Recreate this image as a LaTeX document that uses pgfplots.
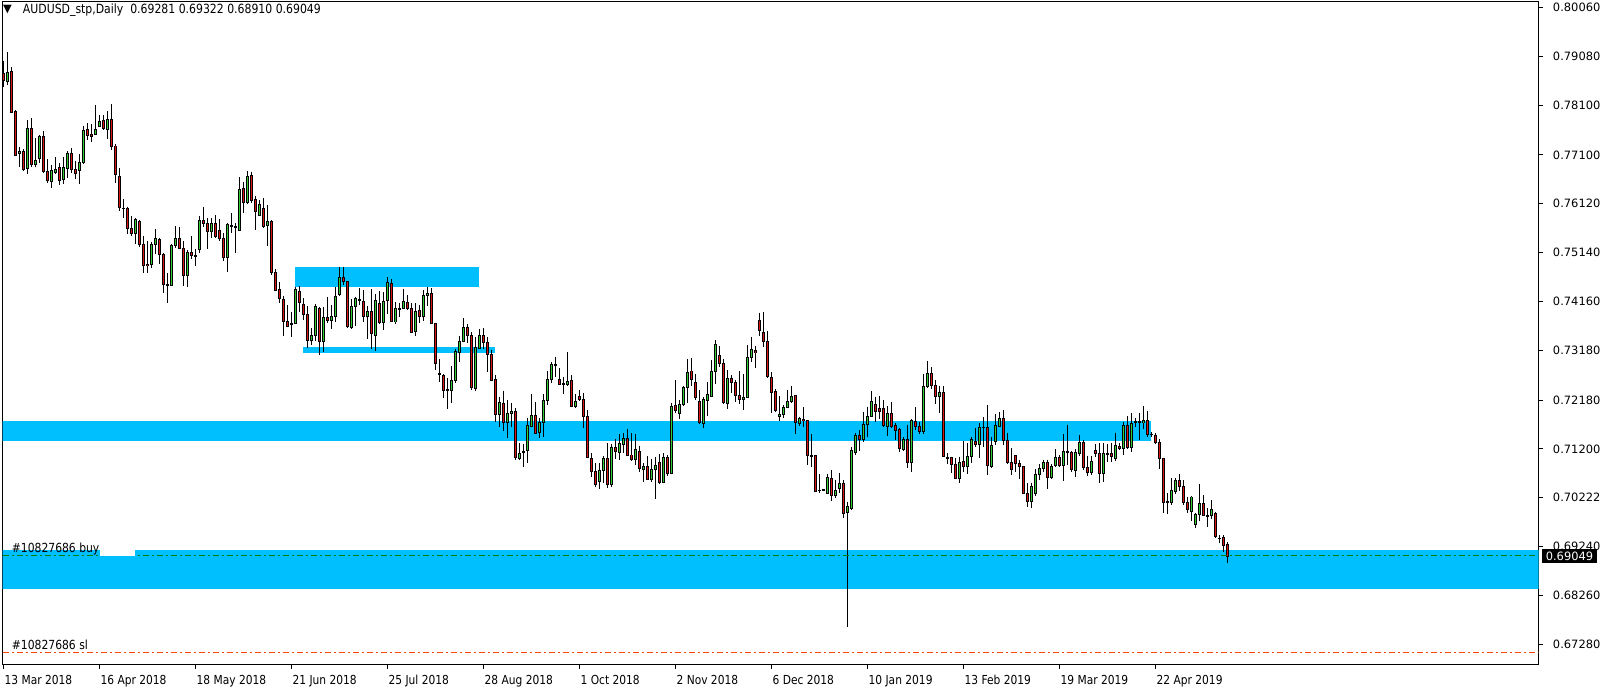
\documentclass[border=0pt]{standalone}
\usepackage{fontspec}
\usepackage{pgfplots}
\usepackage{pgfplotstable}
\pgfplotsset{compat=1.18}
\newfontfamily\mtfont[FakeStretch=0.86]{DejaVu Sans}
\newfontfamily\pxfont{DejaVu Sans}
\definecolor{mtblue}{RGB}{0,191,255}
\definecolor{bullc}{RGB}{50,205,50}
\definecolor{bearc}{RGB}{220,20,20}
\definecolor{buyc}{RGB}{0,128,0}
\definecolor{slc}{RGB}{255,69,0}

\pgfplotstableread{
i O H L C
1 0.78577 0.79159 0.78504 0.78758
4 0.77132 0.77253 0.76865 0.77179
6 0.76831 0.77801 0.76711 0.77634
8 0.76912 0.77433 0.76865 0.76979
9 0.77032 0.77500 0.76945 0.77480
12 0.76570 0.76898 0.76430 0.76778
13 0.76744 0.77052 0.76711 0.76811
15 0.76611 0.77065 0.76517 0.76838
16 0.76831 0.77173 0.76631 0.77132
19 0.76798 0.77112 0.76510 0.76952
20 0.76945 0.77681 0.76918 0.77601
23 0.77520 0.78102 0.77507 0.77601
24 0.77668 0.77902 0.77654 0.77781
26 0.77614 0.77982 0.77413 0.77815
33 0.75527 0.75841 0.75313 0.75814
37 0.74905 0.75360 0.74838 0.75313
38 0.75306 0.75607 0.75105 0.75413
42 0.74490 0.75313 0.74470 0.75286
43 0.75286 0.75674 0.75239 0.75413
46 0.74677 0.75192 0.74456 0.75152
49 0.75206 0.75875 0.75125 0.75788
52 0.75560 0.75828 0.75426 0.75727
56 0.75045 0.75741 0.74757 0.75714
59 0.75593 0.76650 0.75580 0.76410
61 0.76142 0.76778 0.76115 0.76677
64 0.75888 0.76195 0.75874 0.76115
66 0.75687 0.76095 0.75272 0.75774
73 0.73720 0.74456 0.73707 0.74403
77 0.73372 0.73620 0.73285 0.73479
78 0.73473 0.74108 0.73366 0.74068
80 0.73359 0.74041 0.73138 0.73841
82 0.73774 0.74088 0.73606 0.73867
83 0.73854 0.74456 0.73754 0.74269
84 0.74289 0.74851 0.74269 0.74643
87 0.73640 0.74202 0.73600 0.74068
88 0.74055 0.74255 0.73673 0.74229
91 0.73854 0.74068 0.73406 0.73961
93 0.73473 0.74309 0.73172 0.74188
95 0.73734 0.74342 0.73586 0.74168
96 0.74175 0.74643 0.73908 0.74543
98 0.73747 0.74142 0.73700 0.74008
99 0.74008 0.74135 0.73854 0.74021
100 0.74021 0.74409 0.74001 0.74168
103 0.73553 0.74122 0.73473 0.73961
105 0.73853 0.74380 0.73773 0.74280
106 0.74280 0.74450 0.74068 0.74320
112 0.72368 0.72863 0.72127 0.72576
113 0.72569 0.73198 0.72515 0.73164
114 0.73144 0.73465 0.72944 0.73358
115 0.73358 0.73820 0.73338 0.73639
118 0.72408 0.73439 0.72368 0.73231
119 0.73218 0.73599 0.73205 0.73479
124 0.71893 0.72248 0.71646 0.72134
126 0.71732 0.72181 0.71425 0.71913
127 0.71913 0.72121 0.71646 0.71954
129 0.71004 0.71311 0.70983 0.71111
131 0.71164 0.71826 0.70923 0.71673
132 0.71646 0.72301 0.71632 0.71873
134 0.71525 0.71820 0.71412 0.71733
135 0.71733 0.72295 0.71432 0.72181
136 0.72168 0.72756 0.72081 0.72596
137 0.72596 0.72937 0.72529 0.72897
141 0.72489 0.73144 0.72462 0.72556
143 0.72047 0.72301 0.72014 0.72154
149 0.70542 0.70910 0.70401 0.70770
150 0.70763 0.71057 0.70522 0.71011
152 0.70489 0.71298 0.70442 0.71231
154 0.71124 0.71499 0.70977 0.71312
155 0.71292 0.71512 0.71111 0.71412
158 0.70990 0.71499 0.70877 0.71191
160 0.70790 0.70910 0.70542 0.70850
162 0.70589 0.70997 0.70542 0.70796
163 0.70796 0.71044 0.70194 0.70863
165 0.70529 0.71111 0.70522 0.71031
167 0.70709 0.72128 0.70696 0.72054
169 0.71914 0.72181 0.71800 0.72094
170 0.72094 0.72462 0.72061 0.72442
171 0.72436 0.73004 0.72128 0.72737
175 0.71713 0.72235 0.71626 0.72181
176 0.72175 0.72536 0.71860 0.72295
177 0.72248 0.72984 0.72235 0.72763
178 0.72750 0.73386 0.72496 0.73299
181 0.72114 0.72783 0.72001 0.72616
185 0.72195 0.72696 0.71981 0.72235
186 0.72228 0.73285 0.72215 0.73038
187 0.73038 0.73446 0.72951 0.73198
194 0.71847 0.72262 0.71767 0.71894
195 0.71894 0.72081 0.71813 0.72034
196 0.72034 0.72382 0.72014 0.72154
197 0.72154 0.72462 0.72114 0.72255
199 0.71706 0.71847 0.71659 0.71800
206 0.70302 0.70690 0.70295 0.70636
208 0.70262 0.70576 0.70208 0.70369
209 0.70402 0.70723 0.70309 0.70496
211 0.69920 0.70141 0.67620 0.70054
212 0.70008 0.71245 0.69974 0.71178
213 0.71125 0.71513 0.71078 0.71473
215 0.71392 0.71948 0.71346 0.71693
216 0.71693 0.72048 0.71433 0.71854
217 0.71847 0.72362 0.71834 0.72155
221 0.71647 0.72061 0.71466 0.71914
225 0.71198 0.71446 0.71165 0.71392
227 0.70924 0.71807 0.70743 0.71774
230 0.71546 0.72704 0.71500 0.72456
231 0.72456 0.72965 0.72429 0.72704
234 0.72249 0.72469 0.71928 0.72336
239 0.70603 0.71044 0.70523 0.70931
241 0.70857 0.71312 0.70697 0.71051
242 0.71044 0.71433 0.70924 0.71379
244 0.71292 0.71727 0.71024 0.71633
247 0.70857 0.71446 0.70824 0.71272
248 0.71346 0.71901 0.71279 0.71673
249 0.71647 0.71948 0.71633 0.71814
257 0.70141 0.70522 0.70020 0.70449
258 0.70301 0.70790 0.70261 0.70696
259 0.70689 0.70897 0.70576 0.70810
260 0.70803 0.70977 0.70736 0.70930
262 0.70623 0.70897 0.70603 0.70850
263 0.70863 0.71191 0.70830 0.71031
265 0.70857 0.71499 0.70562 0.71151
268 0.70763 0.71191 0.70643 0.71118
269 0.71111 0.71472 0.71057 0.71332
272 0.70723 0.71057 0.70676 0.70950
275 0.70709 0.71312 0.70542 0.71111
278 0.71004 0.71512 0.70957 0.71272
280 0.71211 0.71746 0.71077 0.71673
282 0.71231 0.71914 0.71144 0.71713
283 0.71740 0.71813 0.71646 0.71746
285 0.71726 0.72061 0.71606 0.71773
291 0.70134 0.70308 0.69887 0.70141
292 0.70127 0.70609 0.70067 0.70375
293 0.70348 0.70609 0.70295 0.70562
297 0.69940 0.70255 0.69759 0.70234
298 0.69679 0.69907 0.69606 0.69887
299 0.69880 0.70495 0.69759 0.70107
302 0.69859 0.70174 0.69786 0.69986
}\bull

\pgfplotstableread{
i O H L C
0 0.78738 0.78992 0.78457 0.78591
2 0.78785 0.78858 0.77935 0.77955
3 0.77982 0.77995 0.77079 0.77099
5 0.77179 0.77213 0.76778 0.76798
7 0.77634 0.77835 0.76865 0.76898
10 0.77480 0.77581 0.76744 0.76764
11 0.76778 0.77012 0.76530 0.76584
14 0.76851 0.76945 0.76497 0.76591
17 0.77132 0.77239 0.76731 0.76811
18 0.76811 0.76985 0.76611 0.76731
21 0.77601 0.77734 0.77400 0.77494
22 0.77520 0.77721 0.77367 0.77467
25 0.77781 0.77902 0.77601 0.77627
27 0.77815 0.78123 0.77199 0.77266
28 0.77280 0.77313 0.76544 0.76698
29 0.76677 0.76845 0.75982 0.76042
30 0.76035 0.76209 0.75828 0.76022
31 0.76029 0.76062 0.75513 0.75627
32 0.75627 0.75881 0.75473 0.75527
34 0.75774 0.75794 0.75259 0.75293
35 0.75293 0.75473 0.74724 0.74878
36 0.74905 0.75373 0.74737 0.74878
39 0.75413 0.75440 0.74911 0.75105
40 0.75105 0.75125 0.74336 0.74503
41 0.74503 0.74724 0.74122 0.74490
44 0.75413 0.75647 0.75206 0.75219
45 0.75226 0.75373 0.74476 0.74677
47 0.75152 0.75473 0.75012 0.75085
48 0.75085 0.75206 0.74878 0.75079
50 0.75794 0.76062 0.75660 0.75727
51 0.75727 0.75828 0.75212 0.75560
53 0.75727 0.75894 0.75426 0.75460
54 0.75593 0.75807 0.75379 0.75426
55 0.75426 0.75526 0.74978 0.75045
57 0.75680 0.75928 0.75526 0.75667
58 0.75667 0.75727 0.75125 0.75654
60 0.76430 0.76563 0.75941 0.76149
62 0.76677 0.76764 0.76129 0.76195
63 0.76209 0.76276 0.75593 0.75968
65 0.76028 0.76229 0.75640 0.75674
67 0.75774 0.75794 0.74690 0.74737
68 0.74750 0.74804 0.74376 0.74389
69 0.74403 0.74550 0.74135 0.74215
70 0.74209 0.74269 0.73466 0.73754
71 0.73747 0.74088 0.73640 0.73653
72 0.73720 0.73941 0.73453 0.73707
74 0.74369 0.74469 0.73948 0.74135
75 0.74102 0.74222 0.73787 0.73894
76 0.73908 0.74068 0.73232 0.73372
79 0.74008 0.74055 0.73085 0.73359
81 0.73847 0.74249 0.73734 0.73774
85 0.74643 0.74851 0.74490 0.74556
86 0.74556 0.74570 0.73633 0.73653
89 0.74202 0.74423 0.74081 0.74188
90 0.74168 0.74389 0.73754 0.73854
92 0.73961 0.74403 0.73212 0.73513
94 0.74128 0.74369 0.73707 0.73740
97 0.74523 0.74603 0.73740 0.73747
101 0.74142 0.74289 0.73988 0.74021
102 0.74021 0.74122 0.73533 0.73546
104 0.73987 0.74088 0.73733 0.73853
107 0.74310 0.74420 0.73706 0.73720
108 0.73720 0.73733 0.72783 0.72917
109 0.72716 0.72997 0.72549 0.72703
110 0.72676 0.72703 0.72228 0.72368
111 0.72395 0.72629 0.72000 0.72382
116 0.73639 0.73706 0.73318 0.73479
117 0.73479 0.73552 0.72382 0.72429
120 0.73479 0.73626 0.73205 0.73332
121 0.73338 0.73445 0.72750 0.73091
122 0.73104 0.73185 0.72569 0.72582
123 0.72596 0.72683 0.71739 0.71893
125 0.72114 0.72368 0.71566 0.71739
128 0.71954 0.72014 0.70983 0.71024
130 0.71151 0.71298 0.70843 0.71137
133 0.71873 0.72148 0.71492 0.71512
138 0.72897 0.73051 0.72649 0.72890
139 0.72602 0.72817 0.72475 0.72502
140 0.72509 0.72636 0.72301 0.72495
142 0.72582 0.72683 0.72034 0.72047
144 0.72255 0.72382 0.72161 0.72194
145 0.72201 0.72315 0.71612 0.71846
146 0.71853 0.71980 0.71010 0.71024
147 0.71010 0.71111 0.70642 0.70743
148 0.70736 0.70910 0.70442 0.70488
151 0.71011 0.71312 0.70422 0.70489
153 0.71231 0.71392 0.71004 0.71144
156 0.71412 0.71593 0.71057 0.71077
157 0.71077 0.71512 0.70957 0.70977
159 0.71151 0.71265 0.70743 0.70810
161 0.70850 0.71057 0.70576 0.70589
164 0.70930 0.71098 0.70502 0.70522
166 0.71031 0.71077 0.70663 0.70709
168 0.72068 0.72583 0.71914 0.71967
172 0.72763 0.73018 0.72469 0.72583
173 0.72536 0.72710 0.72181 0.72228
174 0.72161 0.72382 0.71699 0.71726
179 0.73084 0.73265 0.72837 0.72917
180 0.72917 0.72997 0.72101 0.72121
182 0.72616 0.72683 0.72328 0.72529
183 0.72543 0.72583 0.72148 0.72268
184 0.72275 0.72763 0.72101 0.72195
188 0.73178 0.73272 0.72830 0.73131
189 0.73787 0.73934 0.73472 0.73573
190 0.73533 0.73954 0.73252 0.73352
191 0.73365 0.73566 0.72616 0.72649
192 0.72636 0.72743 0.71914 0.72335
193 0.72355 0.72402 0.71947 0.71967
198 0.72262 0.72275 0.71499 0.71733
200 0.71800 0.72034 0.71646 0.71767
201 0.71773 0.71780 0.70867 0.71071
202 0.71071 0.71499 0.70843 0.71064
203 0.71071 0.71077 0.70328 0.70342
204 0.70375 0.70696 0.70321 0.70368
205 0.70389 0.70402 0.70369 0.70382
207 0.70616 0.70777 0.70161 0.70262
210 0.70509 0.70576 0.69820 0.69900
214 0.71479 0.71580 0.71158 0.71392
218 0.72095 0.72249 0.71747 0.71948
219 0.72015 0.72262 0.71794 0.71948
220 0.72015 0.72182 0.71647 0.71667
222 0.71914 0.72135 0.71613 0.71647
223 0.71660 0.71727 0.71379 0.71566
224 0.71580 0.71613 0.71145 0.71212
226 0.71392 0.71680 0.70810 0.70924
228 0.71747 0.72035 0.71580 0.71647
229 0.71653 0.71747 0.71500 0.71546
232 0.72704 0.72837 0.72396 0.72463
233 0.72463 0.72583 0.72102 0.72249
235 0.72336 0.72469 0.71031 0.71044
236 0.71031 0.71111 0.70897 0.71018
237 0.71018 0.71044 0.70710 0.70884
238 0.70877 0.71024 0.70590 0.70603
240 0.70958 0.71359 0.70743 0.70857
243 0.71339 0.71613 0.71245 0.71285
245 0.71633 0.71834 0.71232 0.71627
246 0.71633 0.72081 0.70677 0.70857
250 0.71814 0.71981 0.71279 0.71366
251 0.71379 0.71526 0.70897 0.70924
252 0.70930 0.71211 0.70676 0.70776
253 0.71071 0.71084 0.70743 0.70910
254 0.70910 0.70977 0.70589 0.70843
255 0.70837 0.70850 0.70295 0.70308
256 0.70308 0.70509 0.70040 0.70141
261 0.70930 0.70977 0.70402 0.70623
264 0.71031 0.71077 0.70843 0.70863
266 0.71151 0.71680 0.70877 0.71138
267 0.71118 0.71164 0.70743 0.70783
270 0.71332 0.71379 0.70776 0.70830
271 0.70830 0.71057 0.70656 0.70723
273 0.71171 0.71298 0.71031 0.71111
274 0.71111 0.71312 0.70522 0.70709
276 0.71111 0.71298 0.70930 0.71104
277 0.71111 0.71325 0.70944 0.71044
279 0.71258 0.71325 0.71178 0.71205
281 0.71673 0.71860 0.71191 0.71225
284 0.71740 0.71914 0.71379 0.71733
286 0.71780 0.71967 0.71445 0.71492
287 0.71492 0.71539 0.71445 0.71486
288 0.71472 0.71512 0.71292 0.71332
289 0.71332 0.71392 0.70790 0.71011
290 0.71011 0.71024 0.69907 0.70127
294 0.70562 0.70696 0.70362 0.70442
295 0.70455 0.70576 0.70067 0.70127
296 0.70121 0.70228 0.69920 0.69987
300 0.70107 0.70275 0.69853 0.69867
301 0.69867 0.70007 0.69639 0.69860
303 0.69906 0.69940 0.69404 0.69438
304 0.69411 0.69471 0.69304 0.69398
305 0.69424 0.69471 0.69137 0.69270
306 0.69281 0.69322 0.68910 0.69049
}\bear

\pgfplotsset{
  wick/.style={draw=none, mark=none, forget plot,
    error bars/.cd, y dir=minus, y explicit, error mark=none,
    error bar style={draw=black, solid, line width=0.75pt}},
  bodyblack/.style={draw=none, mark=none, forget plot,
    error bars/.cd, y dir=both, y explicit, error mark=none,
    error bar style={draw=black, solid, line width=2.25pt}},
  bodycol/.style={draw=none, mark=none, forget plot,
    error bars/.cd, y dir=both, y explicit, error mark=none,
    error bar style={draw=#1, solid, line width=0.75pt}},
}

\begin{document}
\begin{tikzpicture}
\path[use as bounding box] (0,0) rectangle (1203pt,515.25pt);
\begin{axis}[
  at={(2pt,17.25pt)}, anchor=south west,
  scale only axis, width=1151.9pt, height=496.9pt,
  xmin=-0.17, xmax=383.8, ymin=0.66882, ymax=0.8018,
  axis line style={line width=0.75pt, black},
  tick align=outside, major tick length=3.5pt,
  tick style={black, line width=0.75pt},
  xtick pos=left, ytick pos=right,
  xticklabel pos=left, yticklabel pos=right,
  xtick={0,24,48,72,96,120,144,168,192,216,240,264,288},
  xticklabels={13 Mar 2018,16 Apr 2018,18 May 2018,21 Jun 2018,25 Jul 2018,28 Aug 2018,1 Oct 2018,2 Nov 2018,6 Dec 2018,10 Jan 2019,13 Feb 2019,19 Mar 2019,22 Apr 2019},
  xticklabel style={font=\mtfont\fontsize{9.3}{11}\selectfont, anchor=base west, inner sep=0pt, xshift=0.75pt, yshift=-11.6pt},
  ytick={0.80060,0.79080,0.78100,0.77100,0.76120,0.75140,0.74160,0.73180,0.72180,0.71200,0.70222,0.69240,0.68260,0.67280},
  yticklabels={0.80060,0.79080,0.78100,0.77100,0.76120,0.75140,0.74160,0.73180,0.72180,0.71200,0.70222,0.69240,0.68260,0.67280},
  yticklabel style={font=\pxfont\fontsize{8.6}{10}\selectfont, anchor=west, inner sep=0pt, xshift=7.1pt},
  scaled y ticks=false,
]
% zones
\addplot[draw=none, fill=mtblue, forget plot] coordinates {(72.9,0.74851) (118.8,0.74851) (118.8,0.74455) (72.9,0.74455)};
\addplot[draw=none, fill=mtblue, forget plot] coordinates {(74.9,0.73245) (122.9,0.73245) (122.9,0.73131) (74.9,0.73131)};
\addplot[draw=none, fill=mtblue, forget plot] coordinates {(-10,0.71760) (286.9,0.71760) (286.9,0.71364) (-10,0.71364)};
\addplot[draw=none, fill=mtblue, forget plot] coordinates {(-10,0.69170) (400,0.69170) (400,0.68394) (-10,0.68394)};
% wicks
\addplot[wick] table[x=i, y=H, y error minus expr={\thisrow{H}-\thisrow{L}}] {\bull};
\addplot[wick] table[x=i, y=H, y error minus expr={\thisrow{H}-\thisrow{L}}] {\bear};
% bodies outline
\addplot[bodyblack] table[x=i, y expr={(\thisrow{O}+\thisrow{C})/2}, y error expr={abs(\thisrow{C}-\thisrow{O})/2+0.0001}] {\bull};
\addplot[bodyblack] table[x=i, y expr={(\thisrow{O}+\thisrow{C})/2}, y error expr={abs(\thisrow{C}-\thisrow{O})/2+0.0001}] {\bear};
% bodies fill
\addplot[bodycol=bullc] table[x=i, y expr={(\thisrow{O}+\thisrow{C})/2}, y error expr={max(abs(\thisrow{C}-\thisrow{O})/2-0.0001,0)}] {\bull};
\addplot[bodycol=bearc] table[x=i, y expr={(\thisrow{O}+\thisrow{C})/2}, y error expr={max(abs(\thisrow{C}-\thisrow{O})/2-0.0001,0)}] {\bear};
% order lines
\addplot[buyc, line width=0.75pt, dash pattern=on 4.5pt off 2.25pt on 1.5pt off 2.25pt, forget plot] coordinates {(-0.17,0.69056) (400,0.69056)};
\addplot[slc, line width=0.75pt, dash pattern=on 4.5pt off 2.25pt on 1.5pt off 2.25pt, forget plot] coordinates {(-0.17,0.67110) (400,0.67110)};
\addplot[draw=none, fill=white, forget plot] coordinates {(24.2,0.69175) (32.9,0.69175) (32.9,0.69050) (24.2,0.69050)};
\end{axis}
\begin{scope}[x=0.75pt, y=-0.75pt, yshift=515.25pt]
\node[anchor=center, inner sep=0pt, font=\pxfont\fontsize{8.5}{9}\selectfont] at (7.5,9.5) {▼};
\node[anchor=base west, inner sep=0pt, font=\mtfont\fontsize{9.5}{11}\selectfont] at (22.7,14) {AUDUSD\_stp,Daily\ \ 0.69281 0.69322 0.68910 0.69049};
\node[anchor=base west, inner sep=0pt, font=\mtfont\fontsize{9.4}{11}\selectfont] at (11.7,552.3) {\#10827686 buy};
\node[anchor=base west, inner sep=0pt, font=\mtfont\fontsize{9.4}{11}\selectfont] at (11.7,649) {\#10827686 sl};
\node[anchor=west, fill=black, text=white, inner xsep=3pt, inner ysep=0pt, minimum height=10pt, font=\pxfont\fontsize{8.6}{10}\selectfont] at (1541.5,556) {0.69049};
\end{scope}
\end{tikzpicture}
\end{document}
